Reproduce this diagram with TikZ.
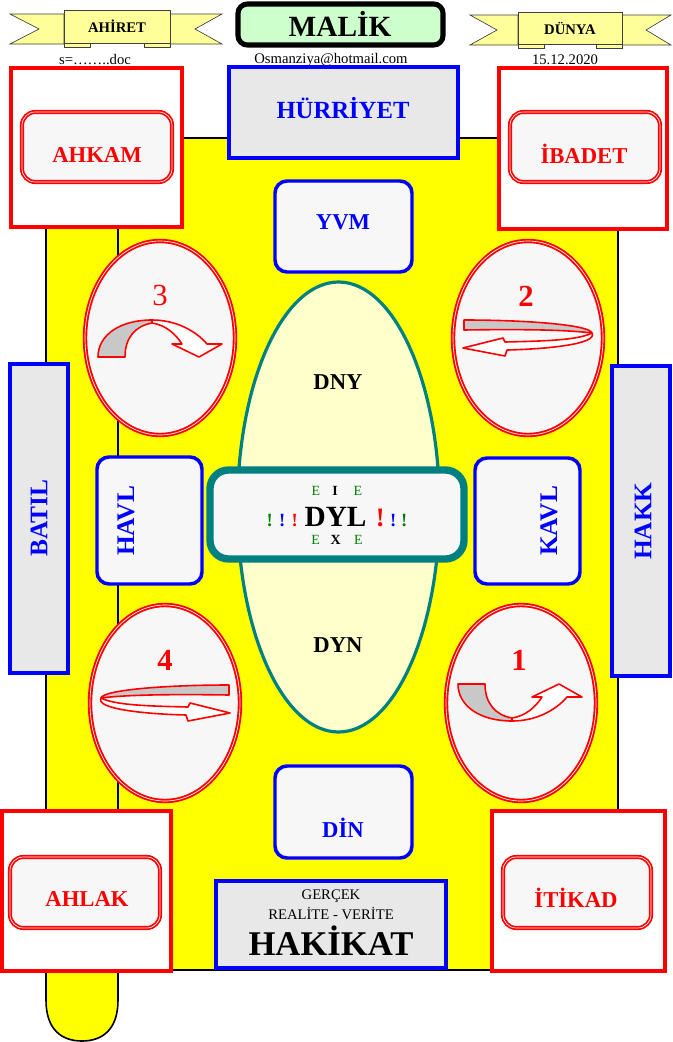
\documentclass[tikz,border=0pt]{standalone}
\usepackage{fontspec}
\setmainfont{Liberation Serif}
\usepackage{xcolor}
\usepackage{tikz}
\definecolor{ribbonyellow}{HTML}{FFFF99}
\definecolor{malikgreen}{HTML}{CCFFCC}
\definecolor{boxgray}{HTML}{E8E8E8}
\definecolor{panelgray}{HTML}{F7F7F7}
\definecolor{arrowgray}{HTML}{C8C8C8}
\definecolor{eggyellow}{HTML}{FFFFCC}
\definecolor{tealline}{HTML}{008080}
\definecolor{dgreen}{HTML}{008000}
\definecolor{pageyellow}{HTML}{FFFF00}

\begin{document}
\begin{tikzpicture}[x=0.75pt, y=-0.75pt,
  ribbon/.style={draw=black!75, line width=0.5pt, fill=ribbonyellow},
  redframe/.style={draw=red, line width=2.8pt, fill=white},
  redpanel/.style={draw=red, double=white, double distance=0.5pt, line width=1.3pt, fill=panelgray, rounded corners=10pt},
  redoval/.style={draw=red, double=white, double distance=0.5pt, line width=1.4pt, fill=panelgray},
  bluebox/.style={draw=blue, line width=2.6pt, fill=boxgray},
  bluepanel/.style={draw=blue, line width=2.6pt, fill=panelgray, rounded corners=9pt},
  redtxt/.style={text=red, font=\bfseries\fontsize{17}{19}\selectfont},
  bluetxt/.style={text=blue, font=\bfseries\fontsize{17}{19}\selectfont},
  sidetxt/.style={text=blue, font=\bfseries\fontsize{19}{21}\selectfont, rotate=90},
  smalltxt/.style={font=\fontsize{11}{12}\selectfont},
  numtxt/.style={text=red, font=\bfseries\fontsize{23}{23}\selectfont},
  arrowline/.style={draw=red, line width=1.2pt, line join=round},
  curlarrow/.pic={
    \filldraw[arrowline, fill=arrowgray] (-62,19) .. controls (-62,-3) and (-40,-18) .. (-8,-18)
      -- (-8,-15) .. controls (-25,-12) and (-35,0) .. (-35,19) -- cycle;
    \filldraw[arrowline, fill=white] (-8,-18) .. controls (15,-18) and (35,-8) .. (47,6)
      -- (62,6) -- (39,19) -- (12,6) -- (22,6) .. controls (15,-5) and (5,-13) .. (-8,-15) -- cycle;
  },
  looparrow/.pic={
    \filldraw[arrowline, fill=arrowgray] (-64,-18) .. controls (0,-18) and (62,-13) .. (64,-5)
      .. controls (40,-8) and (0,-9) .. (-64,-8) -- cycle;
    \filldraw[arrowline, fill=white] (64,-5) .. controls (50,2) and (20,3) .. (-23,4)
      -- (-25,0) -- (-65,10) -- (-23,18) -- (-21,12) .. controls (20,11) and (70,6) .. (64,-5) -- cycle;
  }]
\useasboundingbox (0,0) rectangle (672,1042);
\fill[white] (0,0) rectangle (672,1042);

\draw[ribbon] (64,14) -- (10,14) -- (39,29) -- (10,44) -- (64,44) -- cycle;
\draw[ribbon] (170,14) -- (222,14) -- (195,29) -- (222,44) -- (170,44) -- cycle;
\draw[ribbon] (64,40) rectangle (90,47);
\draw[ribbon] (144,40) rectangle (170,47);
\draw[ribbon] (64,10) rectangle (170,43);
\node[font=\bfseries\fontsize{11}{12}\selectfont] (ahiret) at (117,26) {AHİRET};

\draw[ribbon] (518,15) -- (470,15) -- (497,30) -- (470,45) -- (518,45) -- cycle;
\draw[ribbon] (622,15) -- (671,15) -- (646,30) -- (671,45) -- (622,45) -- cycle;
\draw[ribbon] (518,41) rectangle (544,48);
\draw[ribbon] (596,41) rectangle (622,48);
\draw[ribbon] (518,12) rectangle (622,44);
\node[font=\bfseries\fontsize{11}{12}\selectfont] (dunya) at (570,28) {DÜNYA};

\draw[draw=black, line width=3.8pt, fill=malikgreen, rounded corners=7pt] (238,4) rectangle (443,45);
\node[font=\bfseries\fontsize{22}{23}\selectfont] (malik) at (340,24) {MALİK};

\node[smalltxt] (file) at (95,60) {s=……..doc};
\node[smalltxt] (mail) at (331,60) {Osmanziya@hotmail.com};
\node[smalltxt] (date) at (565,60) {15.12.2020};

\draw[fill=pageyellow, draw=black, line width=1.2pt] (46,138) -- (46,1000) .. controls (46,1030) and (62,1041) .. (82,1041)
  .. controls (102,1041) and (118,1030) .. (118,1000) -- (118,138);
\draw[fill=pageyellow, draw=black, line width=1.2pt] (118,138) rectangle (618,970);

\draw[redframe] (11,68) rectangle (182,227);
\draw[redpanel] (22,112) rectangle (172,182);
\node[redtxt] (ahkam) at (97,155) {AHKAM};
\draw[redframe] (499,68) rectangle (667,229);
\draw[redpanel] (510,112) rectangle (660,182);
\node[redtxt] (ibadet) at (584,154) {İBADET};

\draw[bluebox] (229,67) rectangle (458,158);
\node[text=blue, font=\bfseries\fontsize{18.5}{20}\selectfont] (hurriyet) at (343,108) {HÜRRİYET};

\draw[bluepanel] (275,181) rectangle (412,272);
\node[bluetxt] (yvm) at (343,222) {YVM};

\draw[line width=2.4pt, draw=tealline, fill=eggyellow] (338.5,507) ellipse [x radius=101, y radius=225];
\node[font=\bfseries\fontsize{17}{19}\selectfont] (dny) at (338,382) {DNY};
\node[font=\bfseries\fontsize{17}{19}\selectfont] (dyn) at (338,645) {DYN};

\draw[redoval] (160,338) ellipse [x radius=75, y radius=97];
\node[text=red, font=\fontsize{23}{23}\selectfont] (three) at (160,295) {3};
\pic at (160,338) {curlarrow};
\draw[redoval] (528,338) ellipse [x radius=75, y radius=97];
\node[numtxt] (two) at (526,296) {2};
\pic at (528,338) {looparrow};
\draw[redoval] (165,703) ellipse [x radius=75, y radius=98];
\node[numtxt] (four) at (165,660) {4};
\pic[xscale=-1] at (165,703) {looparrow};
\draw[redoval] (521,703) ellipse [x radius=75, y radius=98];
\node[numtxt] (one) at (519,660) {1};
\pic[yscale=-1] at (520,703) {curlarrow};

\draw[bluebox] (10,364) rectangle (68,673);
\node[sidetxt] (batil) at (39,518) {BATIL};
\draw[bluebox] (612,366) rectangle (670,676);
\node[sidetxt] (hakk) at (643,521) {HAKK};
\draw[bluepanel] (97,457) rectangle (202,584);
\node[sidetxt] (havl) at (126,521) {HAVL};
\draw[bluepanel] (475,458) rectangle (580,584);
\node[sidetxt] (kavl) at (549,521) {KAVL};

\draw[draw=tealline, line width=5.5pt, fill=panelgray, rounded corners=14pt] (210,470) rectangle (464,559);
\node[font=\fontsize{10.5}{11}\selectfont] (dyltop) at (337,491)
  {\textcolor{dgreen}{E}\hspace{9pt}\textbf{I}\hspace{12pt}\textcolor{dgreen}{E}};
\node[font=\bfseries\fontsize{14}{14}\selectfont] (dyl) at (337,517)
  {\textcolor{dgreen}{!}\hspace{4.7pt}\textcolor{blue}{!}\hspace{4.7pt}\textcolor{red}{!}\hspace{5pt}{\fontsize{22}{22}\selectfont DYL}\hspace{7pt}{\fontsize{20}{20}\selectfont\textcolor{red}{!}}\hspace{4pt}\textcolor{blue}{!}\hspace{3.6pt}\textcolor{dgreen}{!}};
\node[font=\fontsize{10.5}{11}\selectfont] (dylbot) at (337,540)
  {\textcolor{dgreen}{E}\hspace{8pt}\textbf{X}\hspace{10pt}\textcolor{dgreen}{E}};

\draw[bluepanel] (275,766) rectangle (412,858);
\node[bluetxt] (din) at (343,828) {DİN};

\draw[redframe] (2,811) rectangle (171,971);
\draw[redpanel] (10,857) rectangle (160,928);
\node[redtxt] (ahlak) at (87,899) {AHLAK};
\draw[redframe] (492,811) rectangle (665,971);
\draw[redpanel] (503,857) rectangle (651,928);
\node[redtxt] (itikad) at (576,898) {İTİKAD};

\draw[bluebox] (216,881) rectangle (446,968);
\node[smalltxt] (gercek) at (331,896) {GERÇEK};
\node[smalltxt] (realite) at (331,914) {REALİTE - VERİTE};
\node[font=\bfseries\fontsize{26}{27}\selectfont] (hakikat) at (331,941) {HAKİKAT};
\end{tikzpicture}
\end{document}
